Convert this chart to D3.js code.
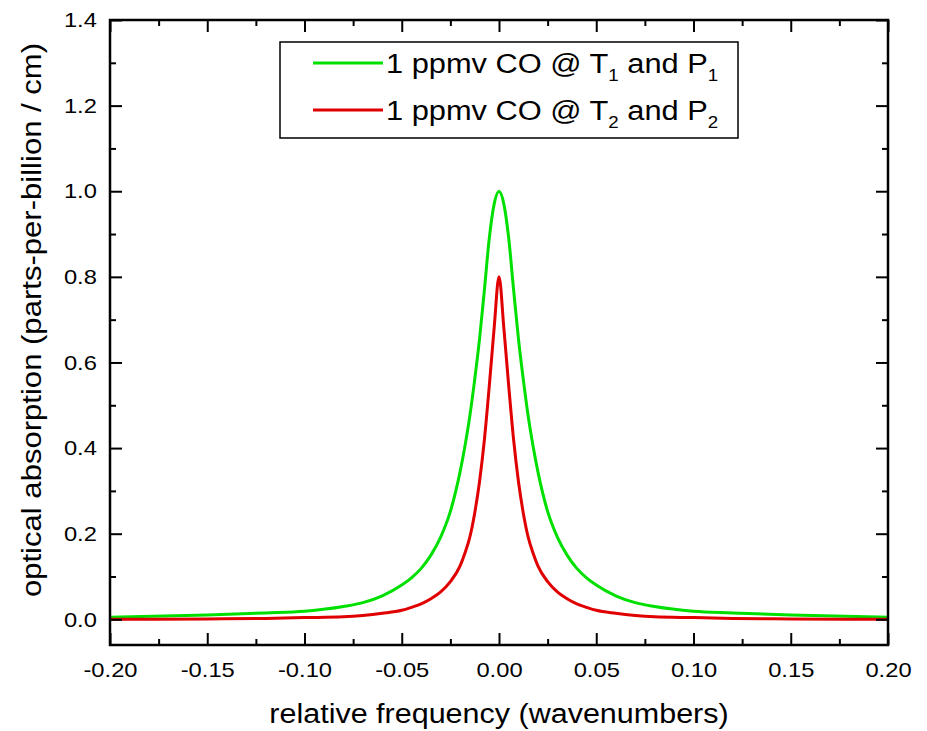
<!DOCTYPE html>
<html>
<head>
    <meta charset="utf-8">
    <title>CO absorption line</title>
    <script src="https://d3js.org/d3.v7.min.js"></script>
    <style>
        body { margin: 0; background: #fff; }
        text { font-family: "Liberation Sans", Arial, sans-serif; fill: #000; }
        .wide { transform-box: fill-box; transform-origin: center; transform: scaleX(1.13); }
        .wideL { transform-box: fill-box; transform-origin: left center; transform: scaleX(1.1); }
    </style>
</head>
<body>
<svg id="chart" width="927" height="731"></svg>
<script>
    // relative frequency (wavenumbers)
    var freq = [-0.20, -0.15, -0.12, -0.10, -0.08, -0.07, -0.06, -0.05, -0.045, -0.04, -0.035, -0.03,
        -0.025, -0.02, -0.0175, -0.015, -0.0125, -0.01, -0.0075, -0.005, -0.0025, 0,
        0.0025, 0.005, 0.0075, 0.01, 0.0125, 0.015, 0.0175, 0.02, 0.025, 0.03, 0.035, 0.04, 0.045,
        0.05, 0.06, 0.07, 0.08, 0.10, 0.12, 0.15, 0.20];
    // 1 ppmv CO @ T1 and P1
    var green1 = [0.005, 0.010, 0.015, 0.019, 0.030, 0.039, 0.055, 0.080, 0.097, 0.119, 0.150, 0.192,
        0.252, 0.345, 0.405, 0.475, 0.560, 0.655, 0.770, 0.890, 0.970, 1.000,
        0.970, 0.890, 0.770, 0.655, 0.560, 0.475, 0.405, 0.345, 0.252, 0.192, 0.150, 0.119, 0.097,
        0.080, 0.055, 0.039, 0.030, 0.019, 0.015, 0.010, 0.005];
    // 1 ppmv CO @ T2 and P2
    var red2 = [0.000, 0.001, 0.002, 0.004, 0.006, 0.009, 0.014, 0.021, 0.028, 0.036, 0.048, 0.064,
        0.088, 0.125, 0.155, 0.192, 0.248, 0.322, 0.420, 0.545, 0.680, 0.800,
        0.680, 0.545, 0.420, 0.322, 0.248, 0.192, 0.155, 0.125, 0.088, 0.064, 0.048, 0.036, 0.028,
        0.021, 0.014, 0.009, 0.006, 0.004, 0.002, 0.001, 0.000];

    var xMajor = [-0.20, -0.15, -0.10, -0.05, 0.00, 0.05, 0.10, 0.15, 0.20];
    var xMinor = [-0.175, -0.125, -0.075, -0.025, 0.025, 0.075, 0.125, 0.175];
    var yMajor = [0.0, 0.2, 0.4, 0.6, 0.8, 1.0, 1.2, 1.4];
    var yMinor = [0.1, 0.3, 0.5, 0.7, 0.9, 1.1, 1.3];

    var seriesNames = ["1 ppmv CO @ T", "1 ppmv CO @ T"];
    var subs = ["1", "2"];
    var colors = ["#00e000", "#e00000"];

    var pL = 110, pR = 888, pT = 20, pB = 645;

    var svg = d3.select("#chart");

    var x = d3.scaleLinear().domain([-0.2, 0.2]).range([pL, pR]);
    var y = d3.scaleLinear().domain([-0.06, 1.4]).range([pB, pT]);

    // hyphen minus like the original, not the unicode one
    var fmtX = function (d) { return d3.format(".2f")(d).replace("\u2212", "-"); };
    var fmtY = function (d) { return d3.format(".1f")(d).replace("\u2212", "-"); };

    // curves
    var line = d3.line()
        .x(function (d) { return x(d[0]); })
        .y(function (d) { return y(d[1]); })
        .curve(d3.curveMonotoneX);

    var series = [green1, red2];
    series.forEach(function (vals, k) {
        svg.append("path")
            .datum(freq.map(function (f, i) { return [f, vals[i]]; }))
            .attr("d", line)
            .attr("fill", "none")
            .attr("stroke", colors[k])
            .attr("stroke-width", 3);
    });

    function clean(g) {
        g.select(".domain").remove();
        g.selectAll("line").attr("stroke", "#000").attr("stroke-width", 2);
    }

    // bottom axis (ticks point inward)
    svg.append("g").attr("transform", "translate(0," + pB + ")")
        .call(d3.axisBottom(x).tickValues(xMajor).tickSize(-12).tickPadding(17).tickFormat(fmtX))
        .call(clean)
        .selectAll("text").attr("font-size", 21).attr("font-family", null).attr("class", "wide");
    svg.append("g").attr("transform", "translate(0," + pB + ")")
        .call(d3.axisBottom(x).tickValues(xMinor).tickSize(-6).tickFormat(""))
        .call(clean);
    // top axis
    svg.append("g").attr("transform", "translate(0," + pT + ")")
        .call(d3.axisTop(x).tickValues(xMajor).tickSize(-12).tickFormat(""))
        .call(clean);
    svg.append("g").attr("transform", "translate(0," + pT + ")")
        .call(d3.axisTop(x).tickValues(xMinor).tickSize(-6).tickFormat(""))
        .call(clean);
    // left axis
    svg.append("g").attr("transform", "translate(" + pL + ",0)")
        .call(d3.axisLeft(y).tickValues(yMajor).tickSize(-12).tickPadding(15).tickFormat(fmtY))
        .call(clean)
        .selectAll("text").attr("font-size", 21).attr("font-family", null).attr("class", "wide");
    svg.append("g").attr("transform", "translate(" + pL + ",0)")
        .call(d3.axisLeft(y).tickValues(yMinor).tickSize(-6).tickFormat(""))
        .call(clean);
    // right axis
    svg.append("g").attr("transform", "translate(" + pR + ",0)")
        .call(d3.axisRight(y).tickValues(yMajor).tickSize(-12).tickFormat(""))
        .call(clean);
    svg.append("g").attr("transform", "translate(" + pR + ",0)")
        .call(d3.axisRight(y).tickValues(yMinor).tickSize(-6).tickFormat(""))
        .call(clean);

    // frame
    svg.append("rect")
        .attr("x", pL).attr("y", pT)
        .attr("width", pR - pL).attr("height", pB - pT)
        .attr("fill", "none").attr("stroke", "#000").attr("stroke-width", 2.5);

    // axis titles
    svg.append("text")
        .attr("class", "wide")
        .attr("x", (pL + pR) / 2).attr("y", 723)
        .attr("text-anchor", "middle").attr("font-size", 27)
        .text("relative frequency (wavenumbers)");
    svg.append("g")
        .attr("transform", "translate(41,320) rotate(-90)")
        .append("text")
        .attr("class", "wide")
        .attr("text-anchor", "middle").attr("font-size", 27.5)
        .text("optical absorption (parts-per-billion / cm)");

    // legend
    var lg = svg.append("g");
    lg.append("rect")
        .attr("x", 280).attr("y", 42).attr("width", 458).attr("height", 96)
        .attr("fill", "#fff").attr("stroke", "#000").attr("stroke-width", 1.5);
    seriesNames.forEach(function (name, k) {
        var ly = 63 + k * 47;
        lg.append("line")
            .attr("x1", 313).attr("x2", 383).attr("y1", ly).attr("y2", ly)
            .attr("stroke", colors[k]).attr("stroke-width", 3);
        var t = lg.append("text").attr("class", "wideL")
            .attr("x", 386).attr("y", ly + 10).attr("font-size", 28);
        t.append("tspan").text(name);
        t.append("tspan").attr("font-size", 17).attr("dy", 8).text(subs[k]);
        t.append("tspan").attr("dy", -8).text(" and P");
        t.append("tspan").attr("font-size", 17).attr("dy", 8).text(subs[k]);
    });
</script>
</body>
</html>
